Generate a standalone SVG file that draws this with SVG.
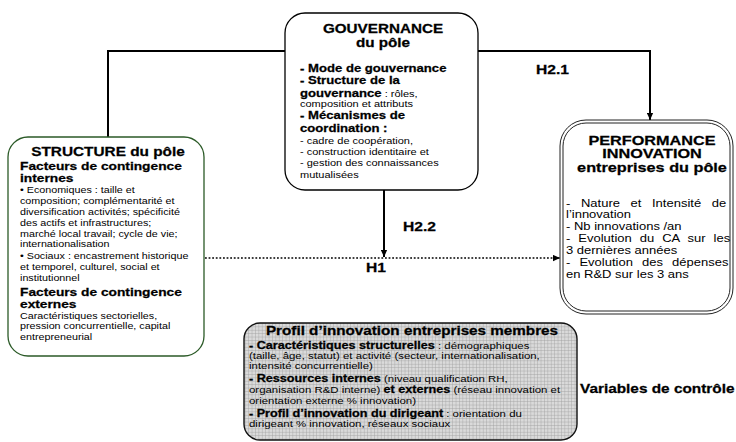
<svg xmlns="http://www.w3.org/2000/svg" width="736" height="442" viewBox="0 0 736 442">
<style>
text{font-family:"Liberation Sans",Arial,Helvetica,sans-serif;fill:#000}
.t{font-weight:bold;stroke:#000;stroke-width:0.25}
.c{text-anchor:middle}
.box{fill:#fff;stroke:#000;stroke-width:1.3}
.conn{fill:none;stroke:#000;stroke-width:2}
.dot{fill:none;stroke:#000;stroke-width:1.6;stroke-dasharray:1.8 1.8}
</style>
<defs>
<marker id="arr" viewBox="0 0 10 10" refX="10" refY="5" markerWidth="7" markerHeight="7" markerUnits="userSpaceOnUse" orient="auto">
<path d="M0,0.5 L10,5 L0,9.5 z" fill="#000"/>
</marker>
<pattern id="grid" width="3.4" height="3.4" patternUnits="userSpaceOnUse">
<rect width="3.4" height="3.4" fill="#dadada"/>
<path d="M0,0 H3.4 M0,0 V3.4" stroke="#9e9e9e" stroke-width="0.8"/>
</pattern>
</defs>

<g id="connectors">
<path class="conn" d="M108,137 V51 H285"/>
<path class="conn" d="M478,51 H650 V120" marker-end="url(#arr)"/>
<path class="conn" d="M384,190 V257" marker-end="url(#arr)"/>
<path class="dot" d="M205,258 H560" marker-end="url(#arr)"/>
<text class="t" transform="translate(536,74) scale(1.25 1)" font-size="12.5">H2.1</text>
<text class="t" transform="translate(403,231) scale(1.25 1)" font-size="12.5">H2.2</text>
<text class="t" transform="translate(366,272) scale(1.25 1)" font-size="12.5">H1</text>
</g>

<g id="structure">
<rect x="8" y="137" width="196" height="219" rx="20" fill="#fff" stroke="#2b5a27" stroke-width="1.3"/>
<g transform="translate(20,0) scale(1.25 1)">
<text class="t c" x="70.4" y="156" font-size="12.3">STRUCTURE du pôle</text>
<text class="t" x="0" y="170" font-size="11">Facteurs de contingence</text>
<text class="t" x="0" y="182" font-size="11">internes</text>
<g font-size="8.6">
<text x="0" y="193">• Economiques : taille et</text>
<text x="0" y="204">composition; complémentarité et</text>
<text x="0" y="215">diversification activités; spécificité</text>
<text x="0" y="226">des actifs et infrastructures;</text>
<text x="0" y="237">marché local travail; cycle de vie;</text>
<text x="0" y="247.5">internationalisation</text>
<text x="0" y="259">• Sociaux : encastrement historique</text>
<text x="0" y="270">et temporel, culturel, social et</text>
<text x="0" y="281">institutionnel</text>
</g>
<text class="t" x="0" y="296" font-size="11">Facteurs de contingence</text>
<text class="t" x="0" y="308" font-size="11">externes</text>
<g font-size="8.6">
<text x="0" y="319">Caractéristiques sectorielles,</text>
<text x="0" y="329.5">pression concurrentielle, capital</text>
<text x="0" y="340">entrepreneurial</text>
</g>
</g>
</g>

<g id="gouvernance">
<rect class="box" x="285" y="13" width="193" height="177" rx="20"/>
<g transform="translate(300,0) scale(1.25 1)">
<text class="t c" x="66.4" y="33" font-size="12.2">GOUVERNANCE</text>
<text class="t c" x="66.4" y="47" font-size="12.2">du pôle</text>
<text class="t" x="0" y="72" font-size="10.5">- Mode de gouvernance</text>
<text class="t" x="0" y="84" font-size="10.5">- Structure de la</text>
<text x="0" y="97" font-size="8.8"><tspan class="t" font-size="10.5">gouvernance</tspan> : rôles,</text>
<text x="0" y="107" font-size="8.8">composition et attributs</text>
<text class="t" x="0" y="119" font-size="10.5">- Mécanismes de</text>
<text class="t" x="0" y="132" font-size="10.5">coordination :</text>
<text x="0" y="144" font-size="8.8">- cadre de coopération,</text>
<text x="0" y="155" font-size="8.8">- construction identitaire et</text>
<text x="0" y="166" font-size="8.8">- gestion des connaissances</text>
<text x="0" y="178" font-size="8.8">mutualisées</text>
</g>
</g>

<g id="performance">
<rect x="560" y="120" width="173" height="194" rx="26" fill="#fff" stroke="#222" stroke-width="1"/>
<rect x="563" y="123" width="167" height="188" rx="23" fill="none" stroke="#222" stroke-width="1"/>
<g transform="translate(566,0) scale(1.25 1)">
<text class="t c" x="68.8" y="145" font-size="13">PERFORMANCE</text>
<text class="t c" x="68.8" y="158" font-size="13">INNOVATION</text>
<text class="t c" x="68.8" y="172" font-size="13">entreprises du pôle</text>
<g font-size="10.4">
<text x="0" y="207" word-spacing="5.6">- Nature et Intensité de</text>
<text x="0" y="218">l’innovation</text>
<text x="0" y="230">- Nb innovations /an</text>
<text x="0" y="242" word-spacing="3.5">- Evolution du CA sur les</text>
<text x="0" y="254">3 dernières années</text>
<text x="0" y="266" word-spacing="4.4">- Evolution des dépenses</text>
<text x="0" y="278">en R&amp;D sur les 3 ans</text>
</g>
</g>
</g>

<g id="profil">
<rect x="244" y="323" width="333" height="117" rx="16" fill="url(#grid)" stroke="#111" stroke-width="1.4"/>
<g transform="translate(249,0) scale(1.25 1)">
<text class="t c" x="130.4" y="335" font-size="12.2">Profil d’innovation entreprises membres</text>
<text x="0" y="349" font-size="9.15"><tspan class="t" font-size="10.1">- Caractéristiques structurelles</tspan> : démographiques</text>
<text x="0" y="359" font-size="9.15">(taille, âge, statut) et activité (secteur, internationalisation,</text>
<text x="0" y="369" font-size="9.15">intensité concurrentielle)</text>
<text x="0" y="382" font-size="9.15"><tspan class="t" font-size="10.1">- Ressources internes</tspan> (niveau qualification RH,</text>
<text x="0" y="393" font-size="9.15">organisation R&amp;D interne) <tspan class="t" font-size="10.1">et externes</tspan> (réseau innovation et</text>
<text x="0" y="404" font-size="9.15">orientation externe % innovation)</text>
<text x="0" y="417" font-size="9.15"><tspan class="t" font-size="10.1">- Profil d’innovation du dirigeant</tspan> : orientation du</text>
<text x="0" y="427" font-size="9.15">dirigeant % innovation, réseaux sociaux</text>
</g>
</g>

<g id="controle">
<text class="t" transform="translate(580,393) scale(1.25 1)" font-size="12.3">Variables de contrôle</text>
</g>
</svg>
